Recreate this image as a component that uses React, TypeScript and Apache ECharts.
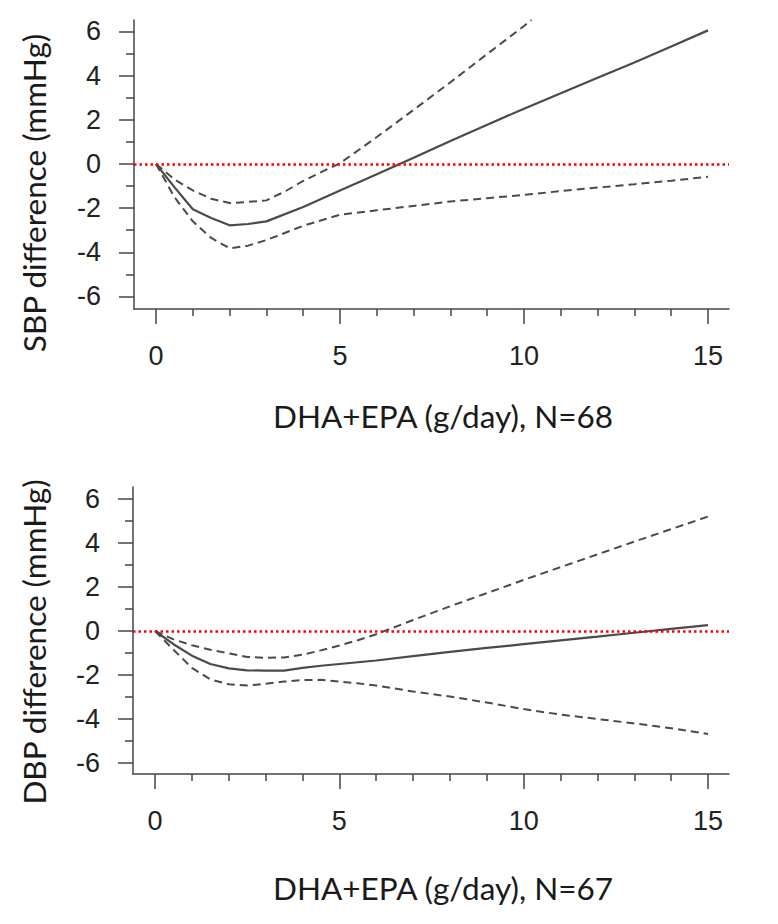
import React, { useEffect, useRef } from "react";
import * as echarts from "echarts";

// ---- data ----
const xMajor = [0, 5, 10, 15];
const xMinor = [1, 2, 3, 4, 6, 7, 8, 9, 11, 12, 13, 14];
const yMajor = [-6, -4, -2, 0, 2, 4, 6];
const yMinor = [-5, -3, -1, 1, 3, 5];

const sbpX = [0, 0.5, 1, 1.5, 2, 2.5, 3, 4, 5, 6, 7, 8, 9, 10, 11, 12, 13, 14, 15];
const sbpFit = [0, -1.05, -2.05, -2.45, -2.78, -2.72, -2.6, -1.95, -1.2, -0.47, 0.28, 1.04, 1.78, 2.5, 3.2, 3.9, 4.6, 5.32, 6.05];
const sbpLower = [0, -1.5, -2.6, -3.35, -3.82, -3.7, -3.45, -2.8, -2.3, -2.1, -1.9, -1.7, -1.55, -1.4, -1.23, -1.07, -0.92, -0.76, -0.58];
const sbpUpperX = [0, 0.5, 1, 1.5, 2, 2.5, 3, 3.5, 4, 4.5, 5, 6, 7, 8, 9, 10, 10.2];
const sbpUpper = [0, -0.7, -1.2, -1.58, -1.77, -1.72, -1.65, -1.25, -0.77, -0.36, 0.03, 1.22, 2.45, 3.7, 4.98, 6.25, 6.52];

const dbpX = [0, 0.5, 1, 1.5, 2, 2.5, 3, 3.5, 4, 4.5, 5, 5.5, 6, 7, 8, 9, 10, 11, 12, 13, 14, 15];
const dbpFit = [0, -0.6, -1.12, -1.5, -1.7, -1.79, -1.8, -1.8, -1.68, -1.58, -1.5, -1.42, -1.34, -1.14, -0.95, -0.77, -0.6, -0.43, -0.26, -0.08, 0.1, 0.27];
const dbpUpper = [0, -0.38, -0.65, -0.85, -1.02, -1.18, -1.22, -1.2, -1.08, -0.88, -0.66, -0.42, -0.15, 0.5, 1.12, 1.72, 2.32, 2.9, 3.48, 4.06, 4.63, 5.2];
const dbpLower = [0, -0.85, -1.68, -2.2, -2.42, -2.48, -2.4, -2.3, -2.23, -2.22, -2.3, -2.38, -2.48, -2.75, -2.98, -3.25, -3.55, -3.8, -4.0, -4.2, -4.42, -4.68];

const titleTopX = "DHA+EPA (g/day), N=68";
const titleBotX = "DHA+EPA (g/day), N=67";
const titleTopY = "SBP difference (mmHg)";
const titleBotY = "DBP difference (mmHg)";

const XMIN = -0.598;
const XMAX = 15.57;

const pairs = (xs: number[], ys: number[]) => xs.map((x, i) => [x, ys[i]]);

const AX = "#444";
const LINE = "#4a4a4a";
const TICKFONT = "Liberation Sans, Arial, sans-serif";
const TITLEFONT = "Lato, 'Open Sans', sans-serif";

function xAxes(gridIndex: number) {
  return [
    {
      type: "value",
      gridIndex,
      min: XMIN,
      max: XMAX,
      position: "bottom",
      axisLine: { show: true, onZero: false, lineStyle: { color: AX, width: 1.5 } },
      axisTick: { show: true, customValues: xMajor, length: 15, lineStyle: { color: AX, width: 1.5 } },
      axisLabel: { show: true, customValues: xMajor, margin: 33, fontSize: 27, fontFamily: TICKFONT, color: "#222" },
      splitLine: { show: false },
    },
    {
      type: "value",
      gridIndex,
      min: XMIN,
      max: XMAX,
      position: "bottom",
      axisLine: { show: false, onZero: false },
      axisTick: { show: true, customValues: xMinor, length: 7, lineStyle: { color: AX, width: 1.5 } },
      axisLabel: { show: false },
      splitLine: { show: false },
    },
  ];
}

function yAxes(gridIndex: number, min: number, max: number) {
  return [
    {
      type: "value",
      gridIndex,
      min,
      max,
      position: "left",
      axisLine: { show: true, onZero: false, lineStyle: { color: AX, width: 1.5 } },
      axisTick: { show: true, customValues: yMajor, length: 15, lineStyle: { color: AX, width: 1.5 } },
      axisLabel: { show: true, customValues: yMajor, margin: 33, fontSize: 27, fontFamily: TICKFONT, color: "#222" },
      splitLine: { show: false },
    },
    {
      type: "value",
      gridIndex,
      min,
      max,
      position: "left",
      axisLine: { show: false, onZero: false },
      axisTick: { show: true, customValues: yMinor, length: 8, lineStyle: { color: AX, width: 1.5 } },
      axisLabel: { show: false },
      splitLine: { show: false },
    },
  ];
}

function lineSeries(data: number[][], xi: number, yi: number, dashed: boolean, withZero: boolean) {
  const s: any = {
    type: "line",
    xAxisIndex: xi,
    yAxisIndex: yi,
    data,
    showSymbol: false,
    symbol: "none",
    smooth: false,
    clip: true,
    lineStyle: { color: LINE, width: dashed ? 2 : 2.2, type: dashed ? [8, 5] : "solid" },
    z: 3,
  };
  if (withZero) {
    s.markLine = {
      silent: true,
      symbol: ["none", "none"],
      label: { show: false },
      lineStyle: { color: "#ff0000", type: [2.5, 3], width: 2.5 },
      data: [{ yAxis: 0 }],
      z: 5,
    };
  }
  return s;
}

export default function App() {
  const ref = useRef<HTMLDivElement>(null);
  useEffect(() => {
    if (!ref.current) return;
    const chart = echarts.init(ref.current, null, { renderer: "svg" });
    chart.setOption({
      animation: false,
      backgroundColor: "#ffffff",
      grid: [
        { left: 134, top: 20, width: 595, height: 289 },
        { left: 133, top: 487, width: 596, height: 287 },
      ],
      xAxis: [...xAxes(0), ...xAxes(1)],
      yAxis: [...yAxes(0, -6.57, 6.52), ...yAxes(1, -6.5, 6.545)],
      series: [
        lineSeries(pairs(sbpX, sbpFit), 0, 0, false, true),
        lineSeries(pairs(sbpUpperX, sbpUpper), 0, 0, true, false),
        lineSeries(pairs(sbpX, sbpLower), 0, 0, true, false),
        lineSeries(pairs(dbpX, dbpFit), 2, 2, false, true),
        lineSeries(pairs(dbpX, dbpUpper), 2, 2, true, false),
        lineSeries(pairs(dbpX, dbpLower), 2, 2, true, false),
      ],
      graphic: [
        {
          type: "text",
          x: 443,
          y: 416,
          style: { text: titleTopX, font: `31.5px ${TITLEFONT}`, fill: "#1a1a1a", textAlign: "center", textVerticalAlign: "middle" },
        },
        {
          type: "text",
          x: 443,
          y: 888,
          style: { text: titleBotX, font: `31.5px ${TITLEFONT}`, fill: "#1a1a1a", textAlign: "center", textVerticalAlign: "middle" },
        },
        {
          type: "text",
          x: 34,
          y: 193,
          rotation: Math.PI / 2,
          style: { text: titleTopY, font: `31.5px ${TITLEFONT}`, fill: "#1a1a1a", textAlign: "center", textVerticalAlign: "middle" },
        },
        {
          type: "text",
          x: 34,
          y: 642,
          rotation: Math.PI / 2,
          style: { text: titleBotY, font: `31.5px ${TITLEFONT}`, fill: "#1a1a1a", textAlign: "center", textVerticalAlign: "middle" },
        },
      ],
    });
    return () => chart.dispose();
  }, []);
  return (
    <div
      ref={ref}
      style={{ position: "absolute", left: 0, top: 0, width: 778, height: 924, background: "#fff" }}
    />
  );
}
